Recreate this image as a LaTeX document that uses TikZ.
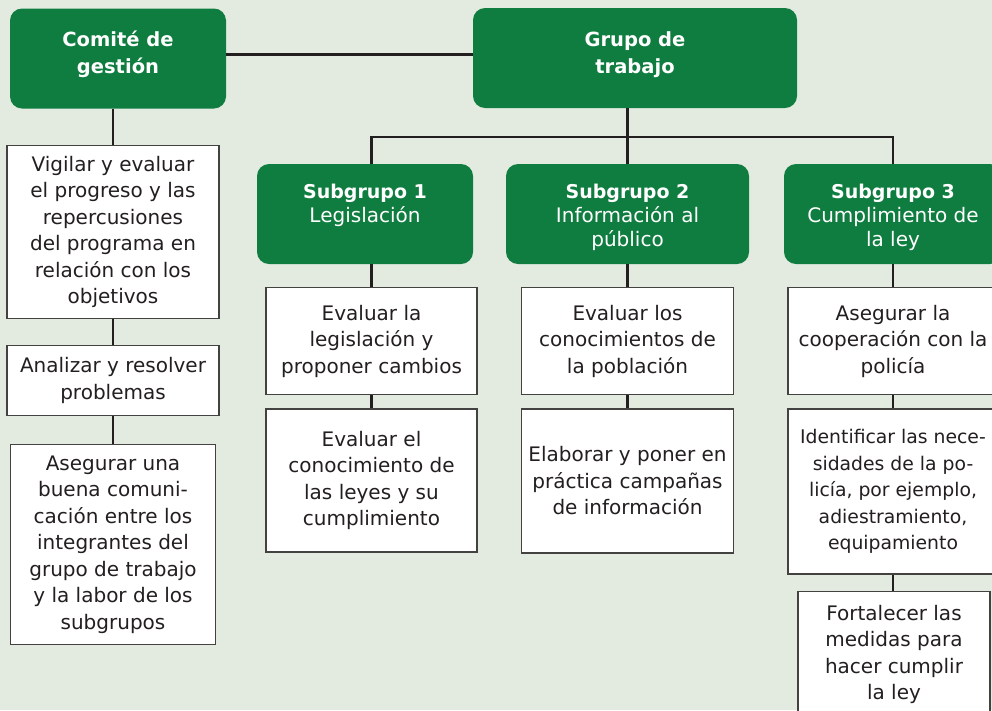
\documentclass[tikz,border=0pt]{standalone}
\usepackage{fontspec}
\setmainfont{DejaVu Sans}
\usetikzlibrary{positioning}
\definecolor{panel}{RGB}{227,235,225}
\definecolor{leaf}{RGB}{16,125,64}
\definecolor{ink}{RGB}{35,31,32}
\tikzset{
    head/.style={
           rectangle,
           rounded corners=12pt,
           fill=leaf,
           text=white,
           inner sep=0pt,
           minimum height=100pt,
           font=\fontsize{20}{24}\selectfont,
           },
    task/.style={
           rectangle,
           draw=ink!85, line width=1.2pt,
           fill=white,
           text=ink,
           align=center,
           inner sep=0pt,
           font=\fontsize{20}{26.5}\selectfont,
           },
    link/.style={
           draw=ink, line width=2.6pt,
           },
}
% text of a green box, hung from the top
\newcommand{\headtxt}[2][34pt]{\parbox[c][100pt][t]{210pt}{\centering\rule{0pt}{#1}#2}}
\newcommand{\subname}[1]{{\fontsize{19}{24}\selectfont\bfseries #1}}

\begin{document}
\begin{tikzpicture}[x=1pt,y=-1pt]

 \useasboundingbox (0,0) rectangle (992,710);
 \clip (0,0) rectangle (992,710);
 \fill[panel] (0,0) rectangle (992,710);

 % top level
 \node[head, minimum width=216pt, font=\fontsize{19.5}{27}\selectfont\bfseries] (CG) at (118,58.5)
  {\headtxt[38pt]{Comité de\\gestión}};
 \node[head, minimum width=324pt, font=\fontsize{19.5}{27}\selectfont\bfseries] (GT) at (635,58)
  {\headtxt[38pt]{Grupo de\\trabajo}};

 % subgroups
 \node[head, minimum width=216pt] (SG1) at (365,214)
  {\headtxt{\subname{Subgrupo 1}\\Legislación}};
 \node[head, minimum width=243pt] (SG2) at (627.5,214)
  {\headtxt{\subname{Subgrupo 2}\\Información al\\público}};
 \node[head, minimum width=218pt] (SG3) at (893,214)
  {\headtxt{\subname{Subgrupo 3}\\Cumplimiento de\\la ley}};

 % tasks of the committee
 \node[task, minimum width=212pt, minimum height=173pt,
  below=36pt of CG, xshift=-5pt] (VIG)
  {Vigilar y evaluar\\el progreso y las\\repercusiones\\del programa en\\relación con los\\objetivos};
 \node[task, minimum width=212pt, minimum height=70pt,
  below=26pt of VIG] (ANA)
  {Analizar y resolver\\problemas};
 \node[task, minimum width=205pt, minimum height=200pt,
  below=28pt of ANA] (COM)
  {Asegurar una\\buena comuni-\\cación entre los\\integrantes del\\grupo de trabajo\\y la labor de los\\subgrupos};

 % tasks of subgroup 1
 \node[task, minimum width=211pt, minimum height=107pt,
  below=23pt of SG1, xshift=6.5pt] (LEG)
  {Evaluar la\\legislación y\\proponer cambios};
 \node[task, minimum width=211pt, minimum height=143pt,
  below=13pt of LEG] (CON)
  {Evaluar el\\conocimiento de\\las leyes y su\\cumplimiento};

 % tasks of subgroup 2
 \node[task, minimum width=212pt, minimum height=107pt,
  below=23pt of SG2] (POB)
  {Evaluar los\\conocimientos de\\la población};
 \node[task, minimum width=212pt, minimum height=144pt,
  below=13pt of POB] (CAM)
  {Elaborar y poner en\\práctica campañas\\de información};

 % tasks of subgroup 3
 \node[task, minimum width=210pt, minimum height=107pt,
  below=23pt of SG3] (POL)
  {Asegurar la\\cooperación con la\\policía};
 \node[task, minimum width=210pt, minimum height=165pt,
  font=\fontsize{18.8}{26.5}\selectfont,
  below=13pt of POL] (NEC)
  {Identificar las nece-\\sidades de la po-\\licía, por ejemplo,\\adiestramiento,\\equipamiento};
 \node[task, minimum width=192pt, minimum height=127pt,
  below=16pt of NEC, xshift=1pt] (FOR)
  {Fortalecer las\\medidas para\\hacer cumplir\\la ley};

 % connectors
 \coordinate (bus) at (627,137);
 \path[link]
 ([yshift=4pt]CG.east) -- ([yshift=4pt]CG.east -| GT.west)
 (GT.south -| SG2.north) -- (SG2.north)
 (SG1.north -| LEG.north) -- (bus -| LEG.north) -- (bus -| POL.north) -- (SG3.north -| POL.north)
 (CG.south -| VIG.north) -- (VIG.north)
 (VIG.south) -- (ANA.north)
 (ANA.south) -- (ANA.south |- COM.north)
 (SG1.south -| LEG.north) -- (LEG.north)
 (LEG.south) -- (CON.north)
 (SG2.south) -- (SG2.south |- POB.north)
 (POB.south) -- (CAM.north)
 (SG3.south) -- (POL.north)
 (POL.south) -- (NEC.north)
 (NEC.south) -- (NEC.south |- FOR.north);

\end{tikzpicture}
\end{document}
